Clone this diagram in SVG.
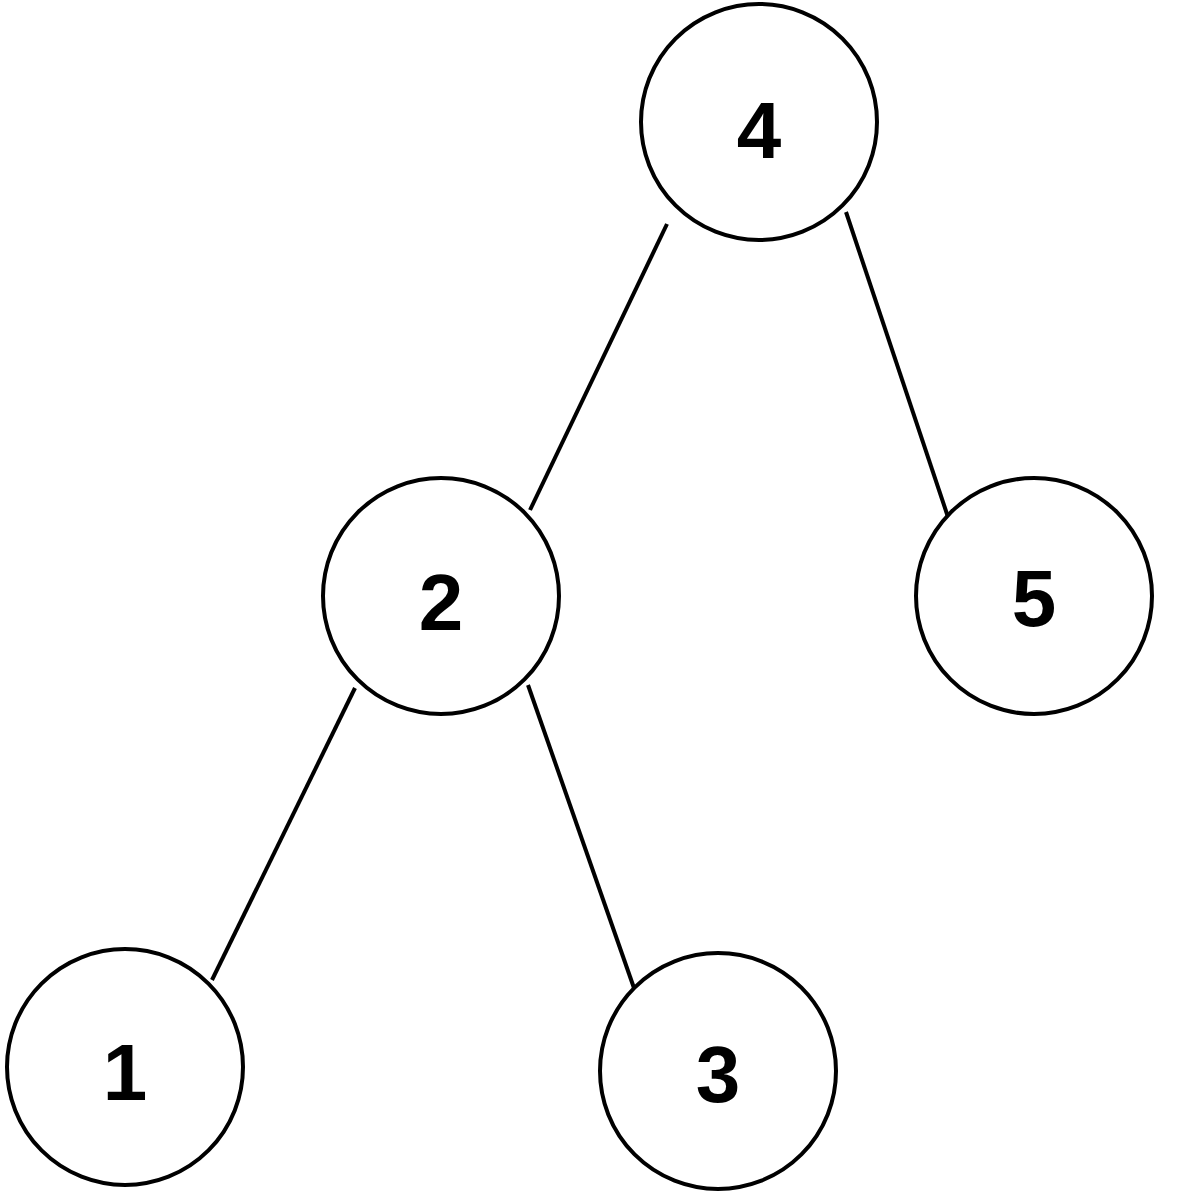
<svg xmlns="http://www.w3.org/2000/svg" width="1200" height="1196" viewBox="0 0 1200 1196">
<style>
circle{fill:#fff;stroke:#000;stroke-width:4}
line{stroke:#000;stroke-width:4}
text{font-family:"Liberation Sans",Arial,sans-serif;font-weight:bold;font-size:80px;text-anchor:middle}
</style>
<rect width="1200" height="1196" fill="#fff"/>
<g id="connectors">
<line x1="667" y1="224" x2="530" y2="510"/>
<line x1="846" y1="212" x2="948" y2="517"/>
<line x1="355" y1="688" x2="212" y2="980"/>
<line x1="528" y1="685" x2="634" y2="988"/>
</g>
<g id="n4"><circle cx="759" cy="122" r="118"/><text x="759" y="158">4</text></g>
<g id="n2"><circle cx="441" cy="596" r="118"/><text x="441" y="630">2</text></g>
<g id="n5"><circle cx="1034" cy="596" r="118"/><text x="1034" y="626">5</text></g>
<g id="n1"><circle cx="125" cy="1067" r="118"/><text x="125" y="1100">1</text></g>
<g id="n3"><circle cx="718" cy="1071" r="118"/><text x="718" y="1102">3</text></g>
</svg>
